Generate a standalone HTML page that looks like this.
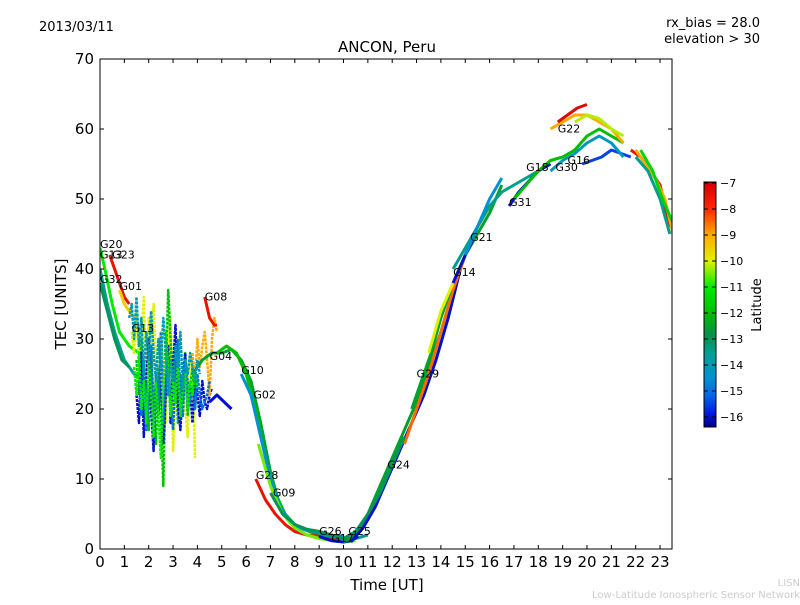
<!DOCTYPE html>
<html><head><meta charset="utf-8"><style>
body{margin:0;background:#fff;width:800px;height:600px;overflow:hidden;font-family:"Liberation Sans","DejaVu Sans",sans-serif}
svg text{font-family:"DejaVu Sans","Liberation Sans",sans-serif}
</style></head><body>
<svg id="chart" width="800" height="600">
<rect width="800" height="600" fill="#fff"/>
<text x="39" y="31" font-size="13">2013/03/11</text>
<text x="760" y="27" font-size="13" text-anchor="end">rx_bias = 28.0</text>
<text x="760" y="43" font-size="13" text-anchor="end">elevation &gt; 30</text>
<text x="387" y="52" font-size="15" text-anchor="middle">ANCON, Peru</text>
<text x="387" y="590" font-size="15" text-anchor="middle">Time [UT]</text>
<text x="66" y="304" font-size="15" text-anchor="middle" transform="rotate(-90 66 304)">TEC [UNITS]</text>
<text x="800" y="586" font-size="10" fill="#ccc" text-anchor="end">LISN</text>
<text x="800" y="598" font-size="10" fill="#ccc" text-anchor="end">Low-Latitude Ionospheric Sensor Network</text>
<defs><linearGradient id="cbg" x1="0" y1="0" x2="0" y2="1"></linearGradient>
<clipPath id="pc"><rect x="100" y="59" width="572" height="490"/></clipPath></defs>
<g id="plot" clip-path="url(#pc)"></g>
<g id="axes"></g>
</svg>
<script>
const xTicks=[0,1,2,3,4,5,6,7,8,9,10,11,12,13,14,15,16,17,18,19,20,21,22,23];
const yTicks=[0,10,20,30,40,50,60,70];
const cbTicks=[-7,-8,-9,-10,-11,-12,-13,-14,-15,-16];
// each satellite arc: label, latitude, times, tec values, label position
const names=["G20","G13","G23","G32","G01","G13","","","","G08","G04","G10","G02","","G28","G09","G26","G17","G25","G24","G29","","","G21","G14","","G31","G18","G22","","G16","G30","","","","","","","","",""];
const lats=[-11,-13.5,-7.5,-13,-9.5,-10,-12,-16,-9,-7.5,-12.5,-12,-14.5,-16,-7.5,-10.5,-13.5,-16,-12.5,-16,-8.5,-12.5,-10,-13.5,-16,-14.5,-16,-12,-9,-7.3,-15.5,-14.2,-10.2,-7.5,-9,-13.5,-11.5,-15,-11,-14,-13];
const times=[
[0,0.2,0.5,0.8,1.2,1.6],[0,0.3,0.6,1,1.4,1.8],[0.4,0.6,0.8,1.0,1.2],[0,0.3,0.6,0.9,1.2],[0.8,1.0,1.2,1.4],
"1.3:0.1:27","1.5:0.1:26","1.5:0.1:32","3.8:0.1:11",
[4.3,4.5,4.7,4.8],
[3.8,4.2,4.6,5,5.4,5.8,6.2,6.6,7,7.4,7.8,8.2,8.6,9],
[4.8,5.2,5.6,6,6.4,6.8,7.2,7.6,8,8.5,9,9.5],
[5.8,6.2,6.6,7,7.4,7.8,8.2,8.8,9.4,10],
[4.5,4.8,5.1,5.4],
[6.4,6.8,7.2,7.6,8,8.5,9,9.5,10],
[6.5,7,7.5,8,8.5,9,9.5,10,10.5],
[9,9.5,10,10.5,11],
[9,9.5,10,10.3,10.6],
[10,10.5,11,11.5,12,12.5,13,13.5,14,14.5,15,15.5,16,16.5],
[10.3,10.8,11.3,11.8,12.3,12.8,13.3,13.8,14.3,14.8],
[12.5,13,13.5,14,14.5,15,15.5,16],
[12.8,13.2,13.6,14,14.4],
[13.5,14,14.5,15],
[14.5,15,15.5,16,16.5,17,17.5,18],
[14.5,15,15.3],
[15,15.5,16,16.5],
[16.8,17.2,17.6,18,18.5],
[17,17.5,18,18.5,19,19.5,20,20.5,21,21.5],
[18.5,19,19.5,20,20.5,21,21.5],
[18.8,19.2,19.6,20],
[19.8,20.2,20.6,21,21.4,21.8],
[18.5,19,19.5,20,20.5,21,21.5],
[19.5,20,20.5,21,21.5],
[21.8,22.2,22.6,23,23.4],
[22,22.4,22.8,23.2,23.6],
[22,22.5,23,23.4],
[22.2,22.7,23.1,23.6],
"1.6:0.1:30","1.4:0.1:27","1.2:0.1:30",
[7,7.5,8,8.5,9,9.5,10,10.5,11,11.5,12,12.5]];
const tecs=[
[43,40,35,31,29,28],[40,35,31,27,25,24],[42,40,38,36,35],[38,34,30,27,26],[37,35,34,33],
[31,28,34,26,30,36,24,33,29,35,27,22,31,25,18,28,33,14,22,30,17,25,20,16,28,26,13],
[27,22,30,19,24,17,29,21,15,26,20,9,24,37,30,22,27,18,25,21,28,19,23,26,20,24],
[22,18,28,16,24,30,20,14,25,19,27,15,22,29,18,26,32,21,17,24,28,20,23,18,25,22,19,24,21,20,22,23],
[28,24,30,26,29,31,27,22,30,33,31],
[36,33,32,32],
[25,27,28,28,28.5,27,24,18,11,6,4,3,2.5,2],
[28,29,28,25,20,13,8,5,3.5,2.8,2.5,2],
[25,22,16,10,6,4,3,2.5,2,1.8],
[21,22,21,20],
[10,7,5,3.5,2.5,2,1.8,1.5,1.5],
[15,9,5,3,2,1.5,1.2,1,1.2],
[2,1.8,1.5,1.5,2],
[1.8,1.2,1,1.2,1.8],
[1,2,5,9,13,17,21,26,31,37,42,45,48,52],
[1,3,6,10,14,18,22,27,33,40],
[15,20,25,31,37,42,46,49],
[20,24,28,33,37],
[28,34,38,42],
[40,43,46,49,51,52,53,54],
[38,42,44],
[42,46,50,53],
[49,51,52.5,54,55],
[50,52,54,55.5,56,57,59,60,59,58],
[60,61,62,62,61,60,58],
[61,62,63,63.5],
[55,55.5,56,57,56.5,56],
[54,55.5,56.5,58,59,58,56],
[61,62,61.5,60,59],
[57,56,54,52,46],
[57,55,53,50,44],
[56,54,50,45],
[57,54,50,46],
[24,19,27,17,22,29,16,25,20,31,18,23,27,21,17,25,30,22,19,26,24,21,23,20,25,22,20,21,22,24],
[26,22,28,20,24,18,27,22,16,24,19,13,23,31,26,19,24,21,27,19,23,25,20,24,22,25,23],
[33,35,30,36,29,33,25,31,27,34,28,24,30,26,33,29,22,27,24,29,26,31,23,27,25,28,26,24,27,25],
[8,5,3.5,2.8,2.5,2,1.5,2.5,5,8,12,16]];
const labelT=[0,0,0.5,0,0.8,1.3,0,0,0,4.3,4.5,5.8,6.3,0,6.4,7.1,9,9.5,10.2,11.8,13.0,0,0,15.2,14.5,0,16.8,17.5,18.8,0,19.2,18.7,0,0,0,0,0,0,0,0,0];
const labelV=[43,41.5,41.5,38,37,31,0,0,0,35.5,27,25,21.5,0,10,7.5,2,1,2,11.5,24.5,0,0,44,39,0,49,54,59.5,0,55,54,0,0,0,0,0,0,0,0,0];

const X=t=>100+t*24.35, Y=v=>549-v*7;
const ns="http://www.w3.org/2000/svg";
const cmL=[-7,-8,-9,-10,-11,-12,-12.8,-13.6,-14.5,-15.2,-15.9,-16.4];
const cmC=[[208,0,0],[255,40,0],[255,170,0],[225,240,0],[0,235,0],[0,190,0],[0,145,70],[0,160,150],[0,145,210],[0,100,230],[0,20,220],[0,0,140]];
function latC(l){if(l>=cmL[0])return `rgb(${cmC[0]})`;for(let i=0;i<cmL.length-1;i++){if(l<=cmL[i]&&l>=cmL[i+1]){const f=(cmL[i]-l)/(cmL[i]-cmL[i+1]);const c=cmC[i].map((v,k)=>Math.round(v+(cmC[i+1][k]-v)*f));return `rgb(${c})`;}}return `rgb(${cmC[cmC.length-1]})`;}
const plot=document.getElementById('plot'), axes=document.getElementById('axes');
function mk(tag,at,par){const e=document.createElementNS(ns,tag);for(const k in at)e.setAttribute(k,at[k]);par.appendChild(e);return e;}
const grad=document.getElementById('cbg');
const CY=l=>183+(-7-l)*26;
cmL.forEach((l,i)=>{mk('stop',{offset:((CY(l)-182)/245).toFixed(3),'stop-color':`rgb(${cmC[i]})`},grad);});
tecs.forEach((vals,i)=>{
  let ts=times[i];
  if(typeof ts==="string"){const [a,d]=ts.split(":").map(Number);ts=vals.map((_,j)=>a+j*d);}
  const pts=vals.map((v,j)=>X(ts[j]).toFixed(1)+","+Y(v).toFixed(1)).join(" ");
  const dotted=typeof times[i]==="string";
  const p=mk('polyline',{points:pts,fill:"none",stroke:latC(lats[i]),"stroke-width":dotted?2.5:3,"stroke-linejoin":"round","stroke-dasharray":dotted?"3 1":"none"},plot);
  
  
});
names.forEach((n,i)=>{if(!n)return;
  const t=mk('text',{x:X(labelT[i]),y:Y(labelV[i]),"font-size":11},axes);t.textContent=n;
  
  
});
const fr=mk('rect',{x:100,y:59,width:572,height:490,fill:"none",stroke:"#000"},axes);


xTicks.forEach(t=>{const x=X(t);
  mk('line',{x1:x,y1:549,x2:x,y2:545,stroke:"#000"},axes);mk('line',{x1:x,y1:59,x2:x,y2:63,stroke:"#000"},axes);
  const tx=mk('text',{x:x,y:567,"font-size":15,"text-anchor":"middle"},axes);tx.textContent=t;
  
  
});
yTicks.forEach(v=>{const y=Y(v);
  mk('line',{x1:100,y1:y,x2:104,y2:y,stroke:"#000"},axes);mk('line',{x1:672,y1:y,x2:668,y2:y,stroke:"#000"},axes);
  const tx=mk('text',{x:94,y:y+5,"font-size":15,"text-anchor":"end"},axes);tx.textContent=v;
  
  
});
const cb=mk('rect',{x:704,y:182,width:12,height:245,fill:"url(#cbg)",stroke:"#000"},axes);


cbTicks.forEach(l=>{const y=CY(l);
  mk('line',{x1:712,y1:y,x2:716,y2:y,stroke:"#000"},axes);mk('line',{x1:704,y1:y,x2:708,y2:y,stroke:"#000"},axes);
  const tx=mk('text',{x:720,y:y+4,"font-size":11},axes);tx.textContent="\u2212"+(-l);
  
  
});
const ct=mk('text',{x:761,y:305,"font-size":13,"text-anchor":"middle",transform:"rotate(-90 761 305)"},axes);ct.textContent="Latitude";


</script>
</body></html>
